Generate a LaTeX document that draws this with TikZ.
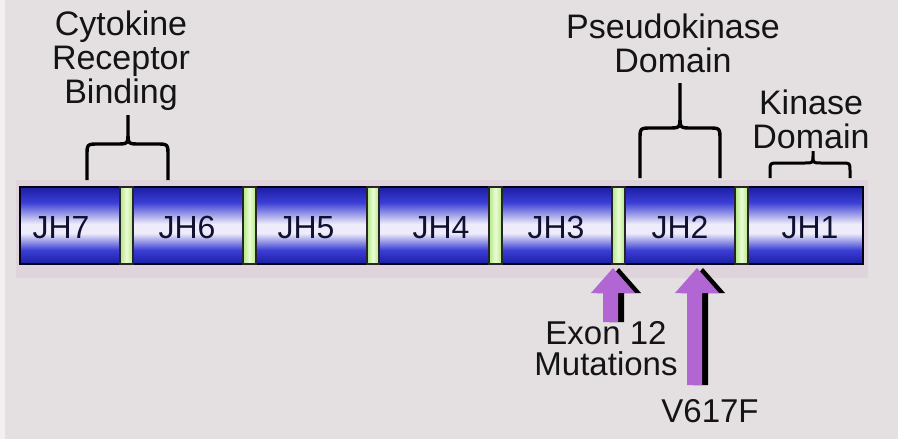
\documentclass[tikz,border=0pt]{standalone}
\usepackage{fontspec}
\setmainfont{Liberation Sans}
\definecolor{bg}{RGB}{228,224,225}
\definecolor{bgedge}{RGB}{242,240,240}
\definecolor{bdark}{RGB}{28,30,165}
\definecolor{bmid}{RGB}{58,62,212}
\definecolor{bwhite}{RGB}{238,236,250}
\definecolor{gedge}{RGB}{176,232,130}
\definecolor{gmid}{RGB}{236,252,215}
\definecolor{arrowpurple}{RGB}{178,102,212}
\definecolor{labelink}{RGB}{20,20,22}
\definecolor{jhink}{RGB}{16,16,48}
\pgfdeclareverticalshading{barshade}{100bp}{color(0bp)=(bdark); color(25bp)=(bdark); color(34bp)=(bmid); color(45bp)=(bwhite); color(51bp)=(bwhite); color(65bp)=(bmid); color(75bp)=(bdark); color(100bp)=(bdark)}
\pgfdeclarehorizontalshading{sepshade}{100bp}{color(0bp)=(gedge); color(25bp)=(gedge); color(50bp)=(gmid); color(75bp)=(gedge); color(100bp)=(gedge)}
\newcommand\mutarrowpath[3]{(#1,#2) -- (#1+22,#2+25) -- (#1+5,#2+25) -- (#1+5,#3) -- (#1-10,#3) -- (#1-10,#2+25) -- (#1-22,#2+25) -- cycle}
\newcommand\bracepath[7]{(#1,#4) -- (#1,#5+#7) .. controls (#1,#5) .. (#1+#7,#5) -- (#3-#7,#5) .. controls (#3,#5) .. (#3,#5-#7) -- (#3,#6)
  (#2,#4) -- (#2,#5+#7) .. controls (#2,#5) .. (#2-#7,#5) -- (#3+#7,#5) .. controls (#3,#5) .. (#3,#5-#7)}
\tikzset{
  lbl/.style={font=\fontsize{34}{34}\selectfont, text=labelink, align=center, inner sep=0pt, anchor=base},
  lblb/.style={lbl, font=\fontsize{33}{31}\selectfont},
  jh/.style={font=\fontsize{32}{33}\selectfont, text=jhink, inner sep=0pt, anchor=base},
  sep/.style={shading=sepshade, draw=black!85, line width=1.6pt},
  bracestyle/.style={draw=black, line width=3.4pt, line cap=butt, line join=round},
}
\begin{document}
\begin{tikzpicture}[x=1pt,y=-1pt]
\useasboundingbox (0,0) rectangle (898,439);
\fill[bg] (0,0) rectangle (898,439);
\fill[bgedge] (0,0) rectangle (5,439);
% soft haze around the bar
\fill[violet!25!bg, opacity=0.2] (16,180) rectangle (868,278);
% bar
\path[shading=barshade] (20,187) rectangle (863,264);
\draw[black!90!blue, line width=2.2pt] (20,187) rectangle (863,264);
% separators
\foreach \a/\b in {120/133,243/256,367/379,489/502,612/625,735/748}
  \path[sep] (\a,187) rectangle (\b,264);
% domain labels
\node[jh] (jh7) at (61,238) {JH7};
\node[jh] (jh6) at (187,238) {JH6};
\node[jh] (jh5) at (306,238) {JH5};
\node[jh] (jh4) at (441,238) {JH4};
\node[jh] (jh3) at (556,238) {JH3};
\node[jh] (jh2) at (680,238) {JH2};
\node[jh] (jh1) at (810,238) {JH1};
% braces
\draw[bracestyle] \bracepath{87}{168}{128}{180}{144}{115}{12};
\draw[bracestyle] \bracepath{640}{720}{680}{178}{128}{83}{12};
\draw[bracestyle, line width=3pt] \bracepath{770}{850}{813}{178}{163}{151}{8};
% top labels (anchor = baseline of the last line)
\node[lbl] (cyto) at (121,103) {Cytokine\\Receptor\\Binding};
\node[lbl] (pseudo) at (673,72) {Pseudokinase\\Domain};
\node[lbl] (kin) at (811,148) {Kinase\\Domain};
% mutation arrows
\coordinate (exontip) at (613,268);
\coordinate (vtip) at (697,268);
\fill[black] \mutarrowpath{619}{268}{322};
\fill[arrowpurple] \mutarrowpath{613}{268}{322};
\fill[black] \mutarrowpath{703}{268}{385};
\fill[arrowpurple] \mutarrowpath{697}{268}{385};
% bottom labels
\node[lblb] (exon) at (606,375) {Exon 12\\Mutations};
\node[lblb] (v617f) at (710,422) {V617F};
\end{tikzpicture}
\end{document}
